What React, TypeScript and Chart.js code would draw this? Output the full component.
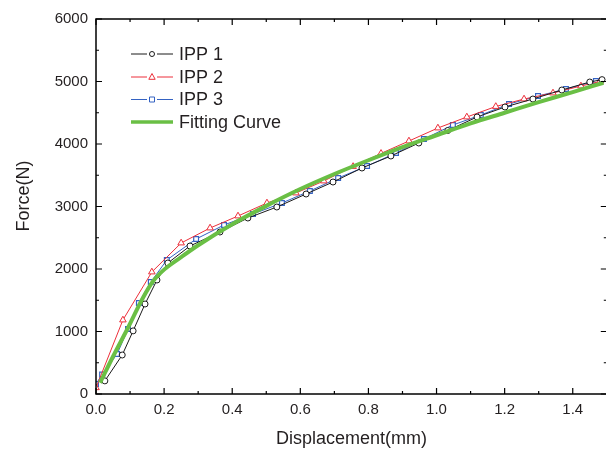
import React, { useEffect, useRef } from 'react';
import { Chart, registerables } from 'chart.js';

Chart.register(...registerables);

// ---- Data ----
const seriesNames = ['IPP 1', 'IPP 2', 'IPP 3', 'Fitting Curve'];

const ipp1Disp = [0.026, 0.077, 0.109, 0.144, 0.179, 0.211, 0.276, 0.364, 0.446, 0.531, 0.617, 0.696, 0.781, 0.866, 0.948, 1.033, 1.119, 1.201, 1.283, 1.368, 1.45, 1.486];
const ipp1Force = [210, 624, 1010, 1440, 1824, 2096, 2368, 2592, 2816, 2992, 3200, 3392, 3616, 3808, 4016, 4216, 4432, 4592, 4720, 4864, 4992, 5030];

const ipp2Disp = [0.0, 0.079, 0.164, 0.25, 0.335, 0.417, 0.502, 0.587, 0.669, 0.755, 0.837, 0.919, 1.004, 1.089, 1.174, 1.257, 1.342, 1.424, 1.48];
const ipp2Force = [100, 1184, 1952, 2416, 2656, 2848, 3056, 3216, 3408, 3640, 3850, 4048, 4256, 4432, 4600, 4720, 4816, 4928, 5000];

const ipp3Disp = [0.0, 0.018, 0.062, 0.094, 0.126, 0.161, 0.208, 0.294, 0.376, 0.461, 0.546, 0.628, 0.711, 0.796, 0.881, 0.963, 1.048, 1.13, 1.213, 1.298, 1.38, 1.468];
const ipp3Force = [160, 310, 640, 1040, 1456, 1792, 2144, 2480, 2704, 2880, 3056, 3248, 3456, 3648, 3856, 4080, 4304, 4464, 4640, 4768, 4880, 5008];

const fitDisp = [0.012, 0.05, 0.094, 0.138, 0.167, 0.2, 0.25, 0.3, 0.4, 0.5, 0.6, 0.7, 0.8, 0.9, 1.0, 1.1, 1.2, 1.3, 1.4, 1.49];
const fitForce = [180, 600, 1060, 1540, 1800, 1990, 2190, 2380, 2716, 3010, 3280, 3520, 3740, 3950, 4140, 4330, 4500, 4670, 4830, 4980];

const xTickValues = [0, 0.2, 0.4, 0.6, 0.8, 1.0, 1.2, 1.4];
const xTickLabels = ['0.0', '0.2', '0.4', '0.6', '0.8', '1.0', '1.2', '1.4'];
const yTickValues = [0, 1000, 2000, 3000, 4000, 5000, 6000];
const yTickLabels = ['0', '1000', '2000', '3000', '4000', '5000', '6000'];

const xTitle = 'Displacement(mm)';
const yTitle = 'Force(N)';

// ---- Styles ----
const FONT = "'Liberation Sans', Arial, sans-serif";
const TEXT = '#231f20';
const BLACK = '#1a1a1a';
const RED = '#ec2f3a';
const BLUE = '#3462c2';
const GREEN = '#6abf45';

const toXY = (xs: number[], ys: number[]) => xs.map((x, i) => ({ x, y: ys[i] }));

const framePlugin = {
  id: 'frameAndLegend',
  afterDraw(chart: any) {
    const { ctx, chartArea } = chart;
    const { left, right, top, bottom } = chartArea;
    const xs = chart.scales.x;
    const ys = chart.scales.y;
    ctx.save();
    // frame
    ctx.strokeStyle = '#000';
    ctx.lineWidth = 1.5;
    ctx.strokeRect(left, top, right - left, bottom - top);
    // inward ticks
    ctx.lineWidth = 1.2;
    ctx.beginPath();
    for (let i = 0; i <= 15; i++) {
      const px = xs.getPixelForValue(i / 10);
      const len = i % 2 === 0 ? 6 : 3;
      ctx.moveTo(px, bottom);
      ctx.lineTo(px, bottom - len);
      ctx.moveTo(px, top);
      ctx.lineTo(px, top + len);
    }
    for (let i = 0; i <= 12; i++) {
      const py = ys.getPixelForValue(i * 500);
      const len = i % 2 === 0 ? 6 : 3;
      ctx.moveTo(left, py);
      ctx.lineTo(left + len, py);
      ctx.moveTo(right, py);
      ctx.lineTo(right - len, py);
    }
    ctx.stroke();

    // axis titles
    ctx.fillStyle = TEXT;
    ctx.font = `18px ${FONT}`;
    ctx.textAlign = 'center';
    ctx.textBaseline = 'middle';
    ctx.fillText(xTitle, (left + right) / 2, 439);
    ctx.save();
    ctx.translate(24, 196);
    ctx.rotate(-Math.PI / 2);
    ctx.fillText(yTitle, 0, 0);
    ctx.restore();

    // legend
    const rows = [54, 77, 99.5, 122];
    const colors = [BLACK, RED, BLUE, GREEN];
    const x0 = 131, x1 = 173, xm = 152;
    ctx.textAlign = 'left';
    rows.forEach((ry, i) => {
      ctx.strokeStyle = colors[i];
      ctx.lineWidth = i === 3 ? 3.5 : 1;
      ctx.beginPath();
      if (i === 3) {
        ctx.moveTo(x0, ry);
        ctx.lineTo(x1, ry);
      } else {
        ctx.moveTo(x0, ry);
        ctx.lineTo(xm - 5, ry);
        ctx.moveTo(xm + 5, ry);
        ctx.lineTo(x1, ry);
      }
      ctx.stroke();
      ctx.lineWidth = 1;
      ctx.fillStyle = '#fff';
      if (i === 0) {
        ctx.beginPath();
        ctx.arc(xm, ry, 2.5, 0, Math.PI * 2);
        ctx.fill();
        ctx.stroke();
      } else if (i === 1) {
        ctx.beginPath();
        ctx.moveTo(xm, ry - 3.5);
        ctx.lineTo(xm + 3.2, ry + 2.3);
        ctx.lineTo(xm - 3.2, ry + 2.3);
        ctx.closePath();
        ctx.fill();
        ctx.stroke();
      } else if (i === 2) {
        ctx.beginPath();
        ctx.rect(xm - 2.5, ry - 2.5, 5, 5);
        ctx.fill();
        ctx.stroke();
      }
      ctx.fillStyle = TEXT;
      ctx.font = `18px ${FONT}`;
      ctx.fillText(seriesNames[i], 179, ry + 1);
    });
    ctx.restore();
  },
};

export default function App() {
  const ref = useRef<HTMLCanvasElement | null>(null);

  useEffect(() => {
    if (!ref.current) return;
    const tickFont = { family: FONT, size: 15 };
    const chart = new Chart(ref.current, {
      type: 'line',
      data: {
        datasets: [
          {
            label: seriesNames[3],
            data: toXY(fitDisp, fitForce),
            borderColor: GREEN,
            borderWidth: 4,
            pointRadius: 0,
            cubicInterpolationMode: 'monotone',
            order: 0,
          },
          {
            label: seriesNames[0],
            data: toXY(ipp1Disp, ipp1Force),
            borderColor: BLACK,
            borderWidth: 1,
            pointStyle: 'circle',
            pointRadius: 3,
            pointBorderWidth: 1,
            pointBackgroundColor: '#fff',
            pointBorderColor: BLACK,
            order: 1,
          },
          {
            label: seriesNames[1],
            data: toXY(ipp2Disp, ipp2Force),
            borderColor: RED,
            borderWidth: 1,
            pointStyle: 'triangle',
            pointRadius: 3.8,
            pointBorderWidth: 1,
            pointBackgroundColor: '#fff',
            pointBorderColor: RED,
            order: 2,
          },
          {
            label: seriesNames[2],
            data: toXY(ipp3Disp, ipp3Force),
            borderColor: BLUE,
            borderWidth: 1,
            pointStyle: 'rect',
            pointRadius: 3.4,
            pointBorderWidth: 1.2,
            pointBackgroundColor: '#fff',
            pointBorderColor: BLUE,
            order: 3,
          },
        ] as any,
      },
      options: {
        animation: false,
        responsive: false,
        devicePixelRatio: 1,
        layout: { padding: { top: 19, right: 5, left: 0, bottom: 0 } },
        plugins: { legend: { display: false }, tooltip: { enabled: false } },
        scales: {
          x: {
            type: 'linear',
            min: 0,
            max: 1.5,
            grid: { display: false, drawTicks: false },
            border: { display: false },
            ticks: {
              padding: 7,
              font: tickFont,
              color: TEXT,
              maxRotation: 0,
              autoSkip: false,
              callback: (_v: any, i: number) => xTickLabels[i],
            },
            afterBuildTicks: (s: any) => {
              s.ticks = xTickValues.map((value) => ({ value }));
            },
            afterFit: (s: any) => {
              s.height = 56;
            },
          },
          y: {
            type: 'linear',
            min: 0,
            max: 6000,
            grid: { display: false, drawTicks: false },
            border: { display: false },
            ticks: {
              padding: 8,
              font: tickFont,
              color: TEXT,
              autoSkip: false,
              callback: (_v: any, i: number) => yTickLabels[i],
            },
            afterBuildTicks: (s: any) => {
              s.ticks = yTickValues.map((value) => ({ value }));
            },
            afterFit: (s: any) => {
              s.width = 96;
            },
          },
        },
      } as any,
      plugins: [framePlugin],
    });
    return () => chart.destroy();
  }, []);

  return (
    <div style={{ position: 'fixed', left: 0, top: 0, width: 606, height: 450, overflow: 'hidden', background: '#fff' }}>
      <canvas ref={ref} width={612} height={450} style={{ width: 612, height: 450, display: 'block' }} />
    </div>
  );
}
